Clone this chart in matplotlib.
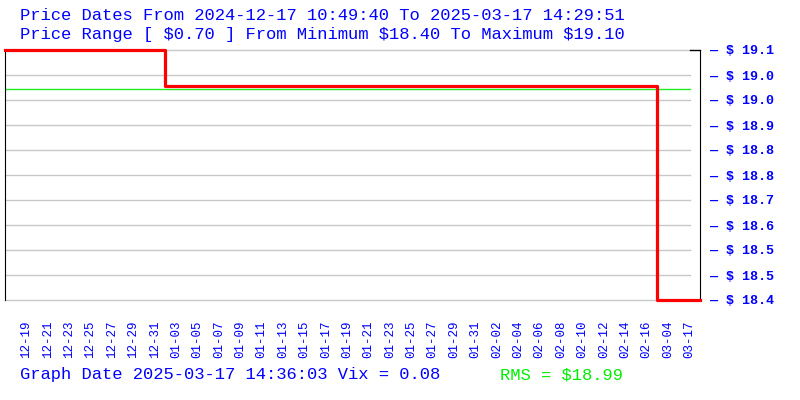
import numpy as np
import matplotlib.pyplot as plt

# price steps (value, number of points at that value)
step_prices = [19.10, 19.00, 18.40]
step_counts = [15, 46, 5]
rms = 18.99

y_ticks = [18.40, 18.47, 18.54, 18.61, 18.68, 18.75, 18.82, 18.89, 18.96, 19.03, 19.10]
y_labels = ["18.4", "18.5", "18.5", "18.6", "18.7", "18.8", "18.8",
            "18.9", "19.0", "19.0", "19.1"]
date_labels = ["12-19", "12-21", "12-23", "12-25", "12-27", "12-29", "12-31",
               "01-03", "01-05", "01-07", "01-09", "01-11", "01-13", "01-15",
               "01-17", "01-19", "01-21", "01-23", "01-25", "01-27", "01-29",
               "01-31", "02-02", "02-04", "02-06", "02-08", "02-10", "02-12",
               "02-14", "02-16", "03-04", "03-17"]

title1 = "Price Dates From 2024-12-17 10:49:40 To 2025-03-17 14:29:51"
title2 = "Price Range [ $0.70 ] From Minimum $18.40 To Maximum $19.10"
footer = "Graph Date 2025-03-17 14:36:03 Vix = 0.08"
rms_text = "RMS = $18.99"

prices = np.repeat(step_prices, step_counts)
idx = np.arange(len(prices))

plt.rcParams['font.family'] = ['Liberation Mono', 'DejaVu Sans Mono']
blue = '#0000ff'

fig = plt.figure(figsize=(8, 4), dpi=100)
ax = fig.add_axes([5 / 800, 100 / 400, 695 / 800, 250 / 400])

gx = 685 / 695
for v in y_ticks:
    ax.axhline(v, xmin=0, xmax=gx, color='#c8c8c8', lw=1, zorder=1, clip_on=False)
ax.axhline(y_ticks[-1], xmin=gx, xmax=1, color='black', lw=1, zorder=2, clip_on=False)
ax.axhline(rms, xmin=0, xmax=gx, color='#22ee22', lw=1, zorder=2)

ax.plot(idx, prices, drawstyle='steps-post', color='red', lw=2.3,
        clip_on=False, zorder=3)

ax.set_xlim(0, len(prices) - 1)
ax.set_ylim(18.40, 19.10)

for s in ['top', 'bottom']:
    ax.spines[s].set_visible(False)
ax.spines['left'].set_color('black')
ax.spines['right'].set_color('black')

ax.yaxis.tick_right()
ax.set_yticks(y_ticks)
ax.set_yticklabels(["\u2014 $ " + s for s in y_labels], color=blue,
                   fontsize=9.6, fontweight='bold')
ax.tick_params(axis='y', length=0, pad=7)

ax.set_xticks(np.arange(2, len(prices), 2))
ax.set_xticklabels(date_labels, rotation=90, color=blue, fontsize=9)
ax.tick_params(axis='x', length=0, pad=15)

fig.text(20 / 800, 1 - 15 / 400, title1, color=blue, fontsize=12.3, va='center')
fig.text(20 / 800, 1 - 35 / 400, title2, color=blue, fontsize=12.3, va='center')
fig.text(20 / 800, 1 - 375 / 400, footer, color=blue, fontsize=12.3, va='center')
fig.text(500 / 800, 1 - 375 / 400, rms_text, color='#00ee00', fontsize=12.3, va='center')

fig.savefig('out.png', dpi=100)
